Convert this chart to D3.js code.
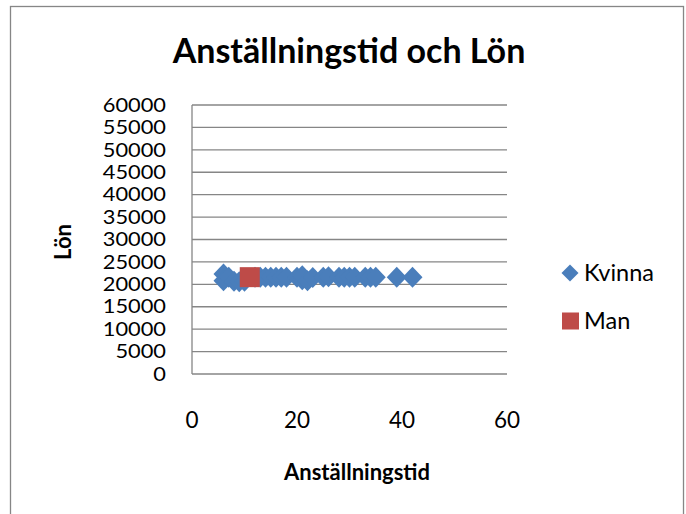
<!DOCTYPE html>
<html>
<head>
<meta charset="utf-8">
<script src="https://cdn.jsdelivr.net/npm/d3@7"></script>
<style>
  html, body { margin: 0; padding: 0; background: #fff; }
  svg text { font-family: Lato, "Open Sans", sans-serif; fill: #000; }
</style>
</head>
<body>
<svg id="chart" width="686" height="514"></svg>
<script>
// Anställningstid (år) och månadslön per person
const kvinnaTid = [6, 6, 7, 8, 9, 10, 12, 13, 14, 15, 16, 17, 18, 20, 21, 21, 22, 23, 25, 26, 28, 29, 30, 31, 33, 34, 35, 39, 42];
const kvinnaLon = [22300, 20800, 21600, 20700, 20600, 20700, 21600, 21600, 21600, 21600, 21600, 21600, 21600, 21600, 21000, 21900, 20800, 21500, 21600, 21700, 21600, 21600, 21600, 21600, 21600, 21600, 21600, 21600, 21600];
const manTid = [11];
const manLon = [21600];
const xTicks = [0, 20, 40, 60];
const yTicks = d3.range(0, 60001, 5000);

const svg = d3.select("#chart");
const grid = "#868686";

// chart frame
svg.append("rect")
  .attr("x", 10.5).attr("y", 6.5)
  .attr("width", 673).attr("height", 540)
  .attr("fill", "#fff").attr("stroke", grid).attr("stroke-width", 1.3);

const x = d3.scaleLinear().domain([0, 60]).range([192, 507]);
const y = d3.scaleLinear().domain([0, 60000]).range([374, 105]);

// horizontal gridlines
svg.append("g").selectAll("line").data(yTicks.filter(d => d > 0)).join("line")
  .attr("x1", x(0)).attr("x2", x(60))
  .attr("y1", d => y(d)).attr("y2", d => y(d))
  .attr("stroke", grid).attr("stroke-width", 1.3);

// axes lines
svg.append("line").attr("x1", x(0)).attr("x2", x(0)).attr("y1", y(60000)).attr("y2", y(0))
  .attr("stroke", grid).attr("stroke-width", 1.3);
svg.append("line").attr("x1", x(0)).attr("x2", x(60)).attr("y1", y(0)).attr("y2", y(0))
  .attr("stroke", grid).attr("stroke-width", 1.3);

// y tick labels: tightly stacked, so a slightly smaller face widened horizontally
svg.append("g").selectAll("text").data(yTicks).join("text")
  .attr("transform", d => `translate(166,${y(d)}) scale(1.18,1)`)
  .attr("dy", "0.36em")
  .attr("text-anchor", "end")
  .attr("font-size", 18.5)
  .text(d => d);

// x tick labels
svg.append("g").selectAll("text").data(xTicks).join("text")
  .attr("x", d => x(d)).attr("y", 420)
  .attr("dy", "0.36em")
  .attr("text-anchor", "middle")
  .attr("font-size", 22.5)
  .text(d => d);

// title
svg.append("text")
  .attr("x", 349).attr("y", 63)
  .attr("text-anchor", "middle")
  .attr("font-size", 34).attr("font-weight", "bold")
  .text("Anställningstid och Lön");

// axis titles
svg.append("text")
  .attr("x", 357).attr("y", 472).attr("dy", "0.36em")
  .attr("text-anchor", "middle")
  .attr("font-size", 22).attr("font-weight", "bold")
  .text("Anställningstid");
svg.append("text")
  .attr("transform", "translate(63,242) rotate(-90)")
  .attr("dy", "0.36em")
  .attr("text-anchor", "middle")
  .attr("font-size", 22).attr("font-weight", "bold")
  .text("Lön");

const blue = "#4a7ebb";
const red = "#be4b48";
const diamond = (cx, cy, rx, ry) => `M${cx},${cy - ry}L${cx + rx},${cy}L${cx},${cy + ry}L${cx - rx},${cy}Z`;

// Kvinna series
svg.append("g").selectAll("path").data(kvinnaTid.map((t, i) => [t, kvinnaLon[i]])).join("path")
  .attr("d", d => diamond(x(d[0]), y(d[1]), 10, 10.5))
  .attr("fill", blue);

// Man series
svg.append("g").selectAll("rect").data(manTid.map((t, i) => [t, manLon[i]])).join("rect")
  .attr("x", d => x(d[0]) - 10).attr("y", d => y(d[1]) - 10)
  .attr("width", 20).attr("height", 20)
  .attr("fill", red);

// legend
const legend = svg.append("g");
legend.append("path").attr("d", diamond(570, 273, 8.5, 8.5)).attr("fill", blue);
legend.append("text").attr("x", 584).attr("y", 273).attr("dy", "0.36em")
  .attr("font-size", 23.5).text("Kvinna");
legend.append("rect").attr("x", 562).attr("y", 312.5).attr("width", 17).attr("height", 17).attr("fill", red);
legend.append("text").attr("x", 584).attr("y", 321).attr("dy", "0.36em")
  .attr("font-size", 23.5).text("Man");
</script>
</body>
</html>
